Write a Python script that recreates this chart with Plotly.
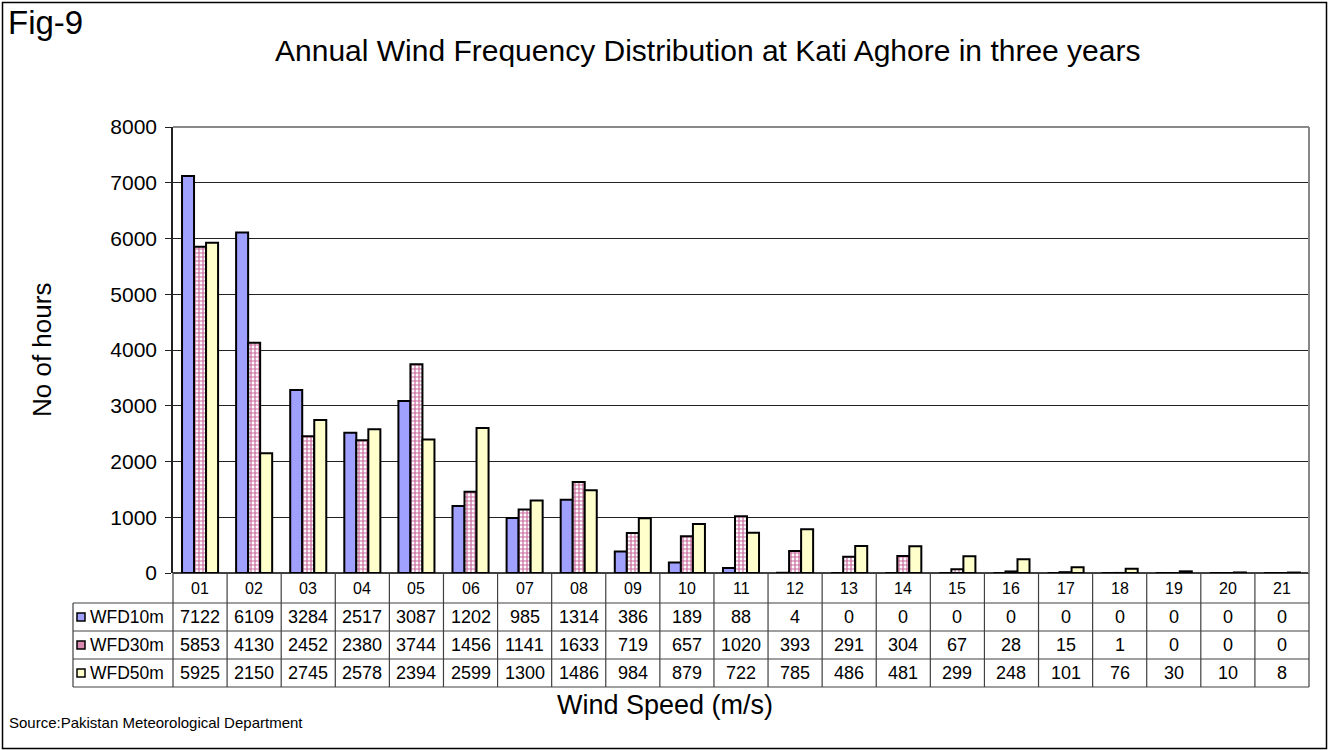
import plotly.graph_objects as go

categories = ["01", "02", "03", "04", "05", "06", "07", "08", "09", "10", "11",
              "12", "13", "14", "15", "16", "17", "18", "19", "20", "21"]
wfd10 = [7122, 6109, 3284, 2517, 3087, 1202, 985, 1314, 386, 189, 88, 4, 0, 0, 0, 0, 0, 0, 0, 0, 0]
wfd30 = [5853, 4130, 2452, 2380, 3744, 1456, 1141, 1633, 719, 657, 1020, 393, 291, 304, 67, 28, 15, 1, 0, 0, 0]
wfd50 = [5925, 2150, 2745, 2578, 2394, 2599, 1300, 1486, 984, 879, 722, 785, 486, 481, 299, 248, 101, 76, 30, 10, 8]
series_names = ["WFD10m", "WFD30m", "WFD50m"]
y_ticks = [0, 1000, 2000, 3000, 4000, 5000, 6000, 7000, 8000]

W, H = 1328, 750
L, R, T, B = 173, 19, 127, 177
PW, PH = W - L - R, H - T - B
FONT = "Arial, Liberation Sans, sans-serif"


def px(x):
    return (x - L) / PW


def py(y):
    return (H - B - y) / PH


series = [wfd10, wfd30, wfd50]
colors = ["#A0A0FF", "#F2D0E0", "#FFFFCC"]

fig = go.Figure()
for i, (name, vals) in enumerate(zip(series_names, series)):
    marker = dict(color=colors[i], line=dict(color="black", width=2))
    if i == 1:
        marker["pattern"] = dict(shape="+", size=4, solidity=0.5,
                                 fgcolor="#C8669A", bgcolor="#FFFFFF", fillmode="replace")
    fig.add_trace(go.Bar(x=categories, y=vals, name=name, marker=marker, showlegend=False))

shapes = []
annotations = []
line_col = "#404040"

# table geometry (pixels)
row_tops = [573, 603, 631, 659, 687]
ncat = len(categories)

# horizontal lines
shapes.append(dict(type="line", xref="paper", yref="paper", x0=px(L), x1=px(W - R),
                   y0=py(row_tops[0]), y1=py(row_tops[0]), line=dict(color="black", width=1.5)))
for yy in row_tops[1:]:
    shapes.append(dict(type="line", xref="paper", yref="paper", x0=px(73), x1=px(W - R),
                       y0=py(yy), y1=py(yy), line=dict(color=line_col, width=1.2)))
# vertical lines
for k in range(ncat + 1):
    shapes.append(dict(type="line", xref="x domain", yref="paper", x0=k / ncat, x1=k / ncat,
                       y0=py(row_tops[0]), y1=py(row_tops[-1]), line=dict(color=line_col, width=1.2)))
shapes.append(dict(type="line", xref="paper", yref="paper", x0=px(73), x1=px(73),
                   y0=py(row_tops[1]), y1=py(row_tops[-1]), line=dict(color=line_col, width=1.2)))

# category labels
for k, c in enumerate(categories):
    annotations.append(dict(xref="x domain", yref="paper", x=(k + 0.5) / ncat,
                            y=py((row_tops[0] + row_tops[1]) / 2), text=c, showarrow=False,
                            font=dict(family=FONT, size=16, color="black"), xanchor="center", yanchor="middle"))
# data rows
for r, (name, vals) in enumerate(zip(series_names, series)):
    ymid = (row_tops[r + 1] + row_tops[r + 2]) / 2
    yc = py(ymid)
    for k, v in enumerate(vals):
        annotations.append(dict(xref="x domain", yref="paper", x=(k + 0.5) / ncat, y=yc,
                                text=str(v), showarrow=False,
                                font=dict(family=FONT, size=18, color="black"),
                                xanchor="center", yanchor="middle"))
    annotations.append(dict(xref="paper", yref="paper", x=px(88), y=yc, text=name, showarrow=False,
                            font=dict(family=FONT, size=17.5, color="black"), xanchor="left", yanchor="middle"))
    sq = dict(type="rect", xref="paper", yref="paper", x0=px(77), x1=px(85), y0=py(ymid + 4), y1=py(ymid - 4),
              line=dict(color="black", width=1.5), fillcolor=colors[r])
    if r == 1:
        sq["fillcolor"] = "#D88AB0"
    shapes.append(sq)

# plot area border (top and right)
shapes.append(dict(type="line", xref="paper", yref="paper", x0=0, x1=1, y0=1, y1=1,
                   line=dict(color="#888888", width=2)))
shapes.append(dict(type="line", xref="paper", yref="paper", x0=1, x1=1, y0=0, y1=1,
                   line=dict(color="#888888", width=2)))
# outer border
shapes.append(dict(type="rect", xref="paper", yref="paper", x0=px(2.5), x1=px(1326.5), y0=py(748.5), y1=py(2.5),
                   line=dict(color="black", width=1.5)))

# texts
annotations.append(dict(xref="paper", yref="paper", x=px(6), y=py(22), text="Fig-9", showarrow=False,
                        font=dict(family=FONT, size=33, color="black"), xanchor="left", yanchor="middle"))
annotations.append(dict(xref="paper", yref="paper", x=px(707), y=py(50),
                        text="Annual Wind Frequency Distribution at Kati Aghore in three years", showarrow=False,
                        font=dict(family=FONT, size=30, color="black"), xanchor="center", yanchor="middle"))
annotations.append(dict(xref="paper", yref="paper", x=px(42), y=py(350), text="No of hours", showarrow=False,
                        textangle=-90, font=dict(family=FONT, size=26, color="black"),
                        xanchor="center", yanchor="middle"))
annotations.append(dict(xref="paper", yref="paper", x=px(665), y=py(705), text="Wind Speed (m/s)",
                        showarrow=False, font=dict(family=FONT, size=27, color="black"),
                        xanchor="center", yanchor="middle"))
annotations.append(dict(xref="paper", yref="paper", x=px(7), y=py(722),
                        text="Source:Pakistan Meteorological Department", showarrow=False,
                        font=dict(family=FONT, size=15, color="black"), xanchor="left", yanchor="middle"))

fig.update_layout(
    width=W, height=H,
    margin=dict(l=L, r=R, t=T, b=B),
    paper_bgcolor="white", plot_bgcolor="white",
    barmode="group", bargap=1 / 3, bargroupgap=0,
    shapes=shapes, annotations=annotations,
    xaxis=dict(range=[-0.5, ncat - 0.5], showticklabels=False, ticks="", showgrid=False,
               showline=False, zeroline=False, fixedrange=True),
    yaxis=dict(range=[0, 8000], tickvals=y_ticks, ticktext=[str(v) for v in y_ticks],
               showgrid=True, gridcolor="#222222", gridwidth=1, zeroline=False,
               showline=True, linecolor="#222222", linewidth=1.5, ticks="outside", ticklen=6,
               tickcolor="#222222", tickfont=dict(family=FONT, size=21, color="black"),
               ticklabelstandoff=4),
)

fig.write_html("out.html", config={"displayModeBar": False},
               post_script="document.body.style.margin='0px';")
